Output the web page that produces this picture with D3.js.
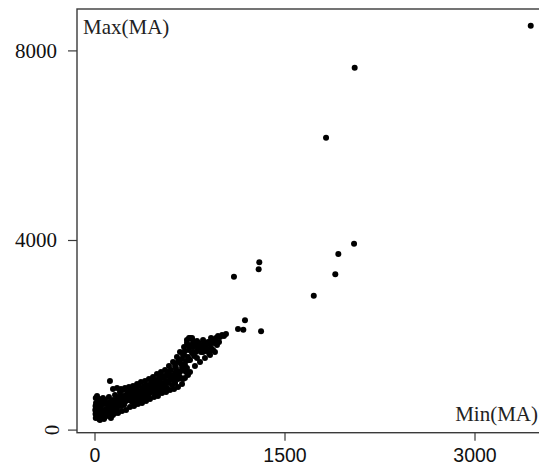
<!DOCTYPE html>
<html>
<head>
<meta charset="utf-8">
<script src="https://cdn.jsdelivr.net/npm/d3@7"></script>
<style>
    body { margin: 0; background: #ffffff; }
    svg { display: block; }
</style>
</head>
<body>
<svg id="chart" width="539" height="467"></svg>
<script>
// Min(MA) values
var minMA = [
    10, 20, 36, 51, 67, 83, 99, 12, 28, 43, 59, 75, 91, 107, 122, 138,
    8, 12, 28, 43, 59, 75, 91, 107, 122, 138, 154, 170, 186, 10, 20, 146,
    162, 178, 193, 201, 114, 130, 43, 75, 6, 8, 217, 209, 36, 122,
    233, 249, 264, 280, 296, 312, 328, 343, 359, 241, 272, 304, 336, 375, 391, 407,
    422, 438, 454, 470, 486, 501, 517, 533, 549, 565, 580, 596, 612, 628, 643, 659,
    367, 399, 430, 462, 493, 525, 557, 414, 446, 478, 509, 541, 572, 604, 636, 383,
    320, 351, 201, 225,
    675, 691, 707, 683, 714, 730, 738, 754, 770, 786, 722, 746, 801, 817, 833, 849,
    864, 880, 896, 912, 928, 943, 959, 975, 991, 1007, 1022, 1038, 793, 809, 825, 762,
    778, 872, 904, 936, 967, 699, 714, 730, 746, 770, 841, 888, 920, 667, 651, 691,
    146, 186, 217, 249, 280, 312, 343, 375, 407, 438, 470, 501, 533, 565, 596, 628,
    659, 691, 714, 754, 793, 833, 872, 912, 951,
    146, 178, 209, 241, 272, 304, 336, 367, 399, 430, 462, 493, 525, 557, 588, 620,
    651, 675, 707, 730, 754,
    162, 193, 233, 264, 296, 328, 359, 391, 422, 454, 486, 517, 549, 580, 612, 643,
    659, 699, 738,
    170, 201, 225, 257, 288, 288, 320, 320, 351, 351, 383, 383, 414, 414, 414, 446,
    446, 478, 478, 509, 509, 509, 541, 541, 572, 572, 572, 604, 604, 636, 636, 636,
    667, 667, 683, 707, 707, 722, 746, 746, 778, 778, 809, 809, 857, 857, 888, 920,
    951, 983, 51, 83, 114, 146, 178, 209, 20, 67, 130, 162,
    1188, 1133, 1175, 1315, 1101, 1296, 1301, 1731, 1901, 1925, 2049, 1828, 2054, 3444
];

// Max(MA) values, same order
var maxMA = [
    245, 287, 224, 266, 308, 266, 329, 371, 414, 350, 414, 371, 435, 392, 456, 414,
    498, 561, 603, 519, 582, 540, 561, 519, 582, 540, 603, 561, 625, 667, 709, 498,
    477, 519, 582, 667, 287, 350, 203, 224, 414, 329, 603, 709, 646, 1025,
    667, 730, 688, 751, 709, 793, 730, 814, 772, 582, 625, 646, 667, 836, 793, 857,
    814, 899, 857, 920, 878, 962, 920, 983, 941, 1025, 983, 1047, 1089, 1047, 1110, 1068,
    709, 730, 751, 793, 814, 857, 878, 941, 983, 1025, 1047, 1089, 1131, 1152, 1194, 625,
    878, 920, 793, 836,
    1215, 1300, 1258, 1384, 1363, 1300, 1532, 1469, 1616, 1553, 1447, 1680, 1637, 1701, 1764, 1722,
    1806, 1764, 1848, 1806, 1891, 1827, 1933, 1975, 1954, 1996, 1975, 2017, 1785, 1869, 1827, 1785,
    1743, 1658, 1616, 1680, 1785, 1574, 1658, 1891, 1933, 1933, 1637, 1701, 1722, 1131, 1236, 1490,
    308, 350, 392, 414, 477, 498, 540, 561, 603, 646, 688, 709, 772, 793, 836, 857,
    899, 962, 1089, 1215, 1342, 1426, 1511, 1574, 1637,
    857, 878, 857, 878, 899, 920, 962, 1004, 1025, 1068, 1110, 1173, 1215, 1258, 1342, 1426,
    1532, 1637, 1743, 1827, 1933,
    730, 688, 519, 793, 582, 836, 646, 920, 709, 1004, 751, 1152, 836, 1215, 941, 1300,
    1426, 1068, 1152,
    625, 540, 709, 625, 836, 667, 730, 561, 793, 625, 857, 730, 920, 793, 667, 941,
    793, 1047, 899, 1089, 941, 814, 1131, 962, 1173, 1004, 878, 1258, 1089, 1342, 1131, 983,
    1469, 1215, 1089, 1574, 1363, 1215, 1764, 1469, 1869, 1637, 1764, 1511, 1891, 1637, 1827, 1933,
    1891, 1848, 477, 625, 688, 625, 435, 498, 540, 667, 245, 350,
    2306, 2123, 2109, 2074, 3226, 3382, 3530, 2825, 3277, 3705, 3923, 6159, 7636, 8522
];

var xTicks = [0, 1500, 3000];
var yTicks = [0, 4000, 8000];

var svg = d3.select("#chart");

var frameLeft = 77;
var frameTop = 9;
var frameBottom = 432.7;

var x = d3.scaleLinear().domain([0, 3000]).range([94.5, 474.5]);
var y = d3.scaleLinear().domain([0, 8000]).range([429.6, 50.4]);

// plot frame, right side runs off the picture
svg.append("rect")
    .attr("x", frameLeft)
    .attr("y", frameTop)
    .attr("width", 600)
    .attr("height", frameBottom - frameTop)
    .attr("fill", "none")
    .attr("stroke", "#3a3a3a")
    .attr("stroke-width", 1.4);

// x axis
var xAxis = d3.axisBottom(x)
    .tickValues(xTicks)
    .tickSize(8)
    .tickPadding(7)
    .tickFormat(d3.format("d"));

var gx = svg.append("g")
    .attr("transform", "translate(0," + frameBottom + ")")
    .call(xAxis);
gx.select(".domain").remove();
gx.selectAll("line").attr("stroke", "#3a3a3a").attr("stroke-width", 1.2);
gx.selectAll("text")
    .attr("fill", "#111")
    .style("font-family", "'Liberation Sans', Arial, sans-serif")
    .style("font-size", "19.5px");

// y axis
var yAxis = d3.axisLeft(y)
    .tickValues(yTicks)
    .tickSize(9)
    .tickPadding(11)
    .tickFormat(d3.format("d"));

var gy = svg.append("g")
    .attr("transform", "translate(" + frameLeft + ",0)")
    .call(yAxis);
gy.select(".domain").remove();
gy.selectAll("line").attr("stroke", "#3a3a3a").attr("stroke-width", 1.2);
gy.selectAll("text")
    .attr("fill", "#111")
    .style("font-family", "'Liberation Serif', 'Times New Roman', serif")
    .style("font-size", "21px");

// the zero label stands on its side
gy.selectAll(".tick")
    .filter(function(d) { return d === 0; })
    .select("text")
    .attr("text-anchor", "middle")
    .attr("dy", "0.32em")
    .attr("transform", "translate(-25,0) rotate(-90)")
    .attr("x", 0);

// points
svg.append("g")
    .selectAll("circle")
    .data(minMA)
    .enter().append("circle")
    .attr("cx", function(d) { return x(d); })
    .attr("cy", function(d, i) { return y(maxMA[i]); })
    .attr("r", 3)
    .attr("fill", "#000");

// axis titles inside the frame
svg.append("text")
    .attr("x", 83)
    .attr("y", 34)
    .attr("fill", "#222")
    .style("font-family", "'Liberation Serif', 'Times New Roman', serif")
    .style("font-size", "21px")
    .text("Max(MA)");

svg.append("text")
    .attr("x", 538)
    .attr("y", 421)
    .attr("text-anchor", "end")
    .attr("fill", "#222")
    .style("font-family", "'Liberation Serif', 'Times New Roman', serif")
    .style("font-size", "21px")
    .text("Min(MA)");
</script>
</body>
</html>
